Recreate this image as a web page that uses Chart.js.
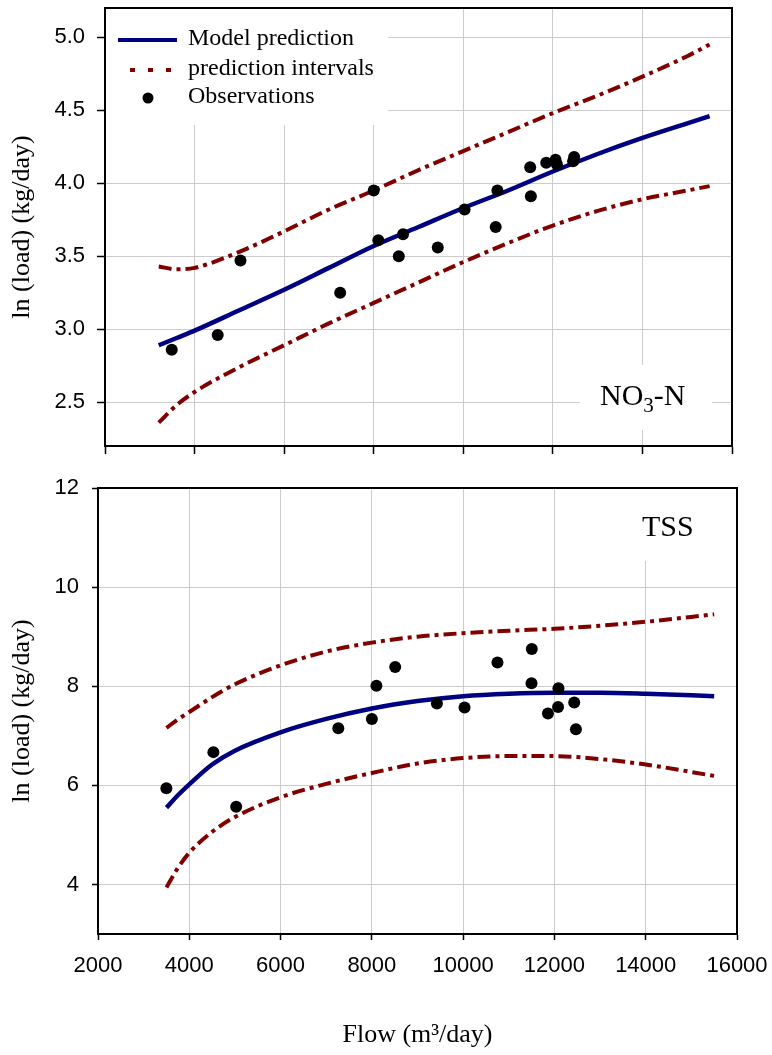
<!DOCTYPE html>
<html lang="en">
<head>
<meta charset="UTF-8">
<title>ln(load) vs flow - NO3-N and TSS</title>
<script src="https://cdn.jsdelivr.net/npm/chart.js"></script>
<style>
  body { margin: 0; background: #fff; }
  .wrap { position: relative; width: 772px; height: 1055px; }
  canvas { position: absolute; left: 0; }
  #no3 { top: 0; }
  #tss { top: 470px; }
</style>
</head>
<body>
<div class="wrap">
  <canvas id="no3" width="772" height="470"></canvas>
  <canvas id="tss" width="772" height="585"></canvas>
</div>
<script>
// tick values
const flowTicks = [2000, 4000, 6000, 8000, 10000, 12000, 14000, 16000];
const no3Ticks = [2.5, 3.0, 3.5, 4.0, 4.5, 5.0];
const tssTicks = [4, 6, 8, 10, 12];

// NO3-N: model curve and prediction intervals
const no3Flow  = [3200, 3600, 4000, 5000, 6000, 7000, 8000, 9000, 10000, 11000, 12000, 13000, 14000, 15000, 15500];
const no3Model = [2.89, 2.94, 2.99, 3.13, 3.27, 3.42, 3.57, 3.70, 3.83, 3.95, 4.08, 4.20, 4.31, 4.41, 4.46];
const no3Upper = [3.43, 3.41, 3.42, 3.53, 3.67, 3.82, 3.95, 4.09, 4.22, 4.35, 4.48, 4.60, 4.73, 4.87, 4.95];
const no3Lower = [2.36, 2.48, 2.57, 2.74, 2.89, 3.04, 3.18, 3.32, 3.46, 3.59, 3.71, 3.81, 3.89, 3.95, 3.98];
// NO3-N observations
const no3ObsFlow = [3490, 4516, 5025, 7251, 8000, 8103, 8560, 8655, 9430, 10029, 10724, 10762, 11509, 11494, 11852, 12060, 12090, 12452, 12475];
const no3ObsLoad = [2.86, 2.96, 3.47, 3.25, 3.95, 3.61, 3.50, 3.65, 3.56, 3.82, 3.70, 3.95, 3.91, 4.11, 4.14, 4.16, 4.13, 4.15, 4.18];

// TSS: model curve and prediction intervals
const tssFlow  = [3500, 3750, 4000, 4500, 5000, 6000, 7000, 8000, 9000, 10000, 11000, 12000, 13000, 14000, 15500];
const tssModel = [5.55, 5.80, 6.02, 6.42, 6.70, 7.07, 7.34, 7.55, 7.70, 7.80, 7.85, 7.87, 7.87, 7.85, 7.80];
const tssUpper = [7.16, 7.33, 7.48, 7.78, 8.04, 8.42, 8.70, 8.88, 9.00, 9.07, 9.12, 9.16, 9.22, 9.30, 9.45];
const tssLower = [3.94, 4.33, 4.64, 5.06, 5.36, 5.76, 6.03, 6.25, 6.44, 6.55, 6.59, 6.59, 6.53, 6.42, 6.19];
// TSS observations
const tssObsFlow = [3498, 4528, 5028, 7265, 8000, 8100, 8511, 9425, 10031, 10752, 11504, 11498, 11858, 12080, 12088, 12434, 12471];
const tssObsLoad = [5.94, 6.67, 5.57, 7.15, 7.34, 8.01, 8.39, 7.65, 7.57, 8.48, 8.75, 8.06, 7.45, 7.58, 7.96, 7.67, 7.13];

Chart.defaults.font.family = '"Liberation Sans", Arial, sans-serif';
Chart.defaults.color = '#000';

const NAVY = '#000080';
const DARKRED = '#800000';
const SERIF = '"Liberation Serif", "Times New Roman", serif';

const pts = (xs, ys) => xs.map((x, i) => ({ x: x, y: ys[i] }));

function makeDatasets(flow, model, upper, lower, obsFlow, obsLoad) {
  const band = {
    borderColor: DARKRED, borderWidth: 4, borderDash: [13, 5, 4, 5],
    pointRadius: 0, cubicInterpolationMode: 'monotone', fill: false
  };
  // first dataset is drawn on top
  return [
    { label: 'Observations', data: pts(obsFlow, obsLoad), showLine: false,
      pointRadius: 6, pointBackgroundColor: '#000', pointBorderWidth: 0 },
    { label: 'Model prediction', data: pts(flow, model), borderColor: NAVY, borderWidth: 4.5,
      pointRadius: 0, cubicInterpolationMode: 'monotone', fill: false },
    Object.assign({ label: 'upper', data: pts(flow, upper) }, band),
    Object.assign({ label: 'lower', data: pts(flow, lower) }, band)
  ];
}

function xAxis(height, showLabels, tickLen) {
  return {
    type: 'linear', min: 2000, max: 16000,
    afterBuildTicks: s => { s.ticks = flowTicks.map(v => ({ value: v })); },
    afterFit: s => { s.height = height; s.paddingLeft = 0; s.paddingRight = 0; },
    grid: { color: '#cccccc', lineWidth: 1, tickColor: '#000', tickLength: tickLen, tickWidth: 1.5 },
    border: { color: '#000', width: 2 },
    ticks: { display: showLabels, font: { size: 22 }, color: '#000', padding: 13, maxRotation: 0,
             autoSkip: false, callback: v => String(v) },
    title: {
      display: showLabels, text: 'Flow (m³/day)',
      font: { family: SERIF, size: 26 }, color: '#000', padding: { top: 0, bottom: 4 }
    }
  };
}

function yAxis(min, max, tickVals, digits, width, tickLen, pad) {
  return {
    type: 'linear', min: min, max: max,
    afterBuildTicks: s => { s.ticks = tickVals.map(v => ({ value: v })); },
    afterFit: s => { s.width = width; s.paddingTop = 0; s.paddingBottom = 0; },
    grid: { color: '#cccccc', lineWidth: 1, tickColor: '#000', tickLength: tickLen, tickWidth: 1.5 },
    border: { color: '#000', width: 2 },
    ticks: { font: { size: 22 }, color: '#000', padding: pad, autoSkip: false,
             callback: v => v.toFixed(digits) },
    title: {
      display: true, text: 'ln (load) (kg/day)',
      font: { family: SERIF, size: 26 }, color: '#000', padding: { top: 7, bottom: 0 }
    }
  };
}

// black box round the plot area
const frame = {
  id: 'frame',
  afterDraw(chart) {
    const { ctx, chartArea: a } = chart;
    ctx.save();
    ctx.strokeStyle = '#000';
    ctx.lineWidth = 2;
    ctx.strokeRect(a.left, a.top, a.right - a.left, a.bottom - a.top);
    ctx.restore();
  }
};

// legend and NO3-N tag for the upper panel
const no3Notes = {
  id: 'no3Notes',
  beforeDatasetsDraw(chart) {
    const ctx = chart.ctx;
    ctx.save();
    ctx.fillStyle = '#fff';
    ctx.fillRect(106, 9, 282, 116);
    ctx.fillRect(580, 365, 132, 65);

    ctx.lineCap = 'butt';
    ctx.lineWidth = 4;
    ctx.strokeStyle = NAVY;
    ctx.beginPath(); ctx.moveTo(118, 40); ctx.lineTo(177, 40); ctx.stroke();
    ctx.strokeStyle = DARKRED;
    ctx.setLineDash([5, 13]);
    ctx.beginPath(); ctx.moveTo(130, 70); ctx.lineTo(177, 70); ctx.stroke();
    ctx.setLineDash([]);
    ctx.fillStyle = '#000';
    ctx.beginPath(); ctx.arc(148, 98, 5.5, 0, Math.PI * 2); ctx.fill();

    ctx.font = '24px ' + SERIF;
    ctx.textBaseline = 'middle';
    ctx.textAlign = 'left';
    ctx.fillText('Model prediction', 188, 39);
    ctx.fillText('prediction intervals', 188, 69);
    ctx.fillText('Observations', 188, 97);

    // NO3-N with a lowered 3
    ctx.textBaseline = 'alphabetic';
    const big = '30px ' + SERIF, small = '21px ' + SERIF;
    let x = 600;
    ctx.font = big; ctx.fillText('NO', x, 405); x += ctx.measureText('NO').width;
    ctx.font = small; ctx.fillText('3', x, 412); x += ctx.measureText('3').width;
    ctx.font = big; ctx.fillText('-N', x, 405);
    ctx.restore();
  }
};

const tssNotes = {
  id: 'tssNotes',
  beforeDatasetsDraw(chart) {
    const ctx = chart.ctx;
    ctx.save();
    ctx.fillStyle = '#fff';
    ctx.fillRect(625, 19, 95, 72);
    ctx.fillStyle = '#000';
    ctx.font = '30px ' + SERIF;
    ctx.textBaseline = 'alphabetic';
    ctx.textAlign = 'left';
    ctx.fillText('TSS', 642, 66);
    ctx.restore();
  }
};

const common = {
  responsive: false,
  animation: false,
  events: [],
  plugins: { legend: { display: false }, tooltip: { enabled: false } }
};

new Chart(document.getElementById('no3'), {
  type: 'line',
  data: { datasets: makeDatasets(no3Flow, no3Model, no3Upper, no3Lower, no3ObsFlow, no3ObsLoad) },
  options: Object.assign({}, common, {
    layout: { padding: { top: 8, right: 40, left: 0, bottom: 0 } },
    scales: {
      x: xAxis(24, false, 8),
      y: yAxis(2.2, 5.2, no3Ticks, 1, 105, 8, 12)
    }
  }),
  plugins: [no3Notes, frame]
});

new Chart(document.getElementById('tss'), {
  type: 'line',
  data: { datasets: makeDatasets(tssFlow, tssModel, tssUpper, tssLower, tssObsFlow, tssObsLoad) },
  options: Object.assign({}, common, {
    layout: { padding: { top: 18, right: 35, left: 0, bottom: 0 } },
    scales: {
      x: xAxis(121, true, 6),
      y: yAxis(3, 12, tssTicks, 0, 98, 6, 13)
    }
  }),
  plugins: [tssNotes, frame]
});
</script>
</body>
</html>
